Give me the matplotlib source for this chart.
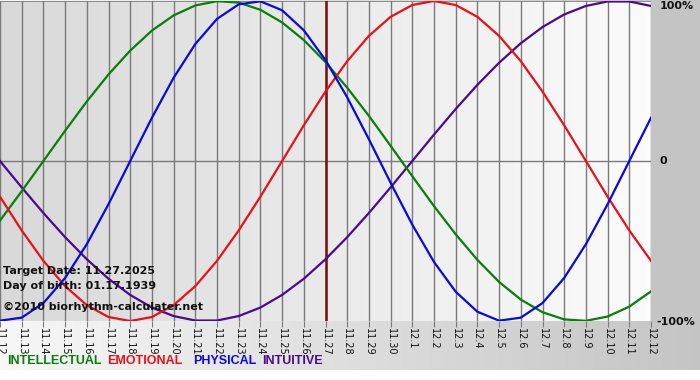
import matplotlib.pyplot as plt
import numpy as np

# dates on x axis (11.12 .. 12.12)
days = ['11.12', '11.13', '11.14', '11.15', '11.16', '11.17', '11.18', '11.19', '11.20',
        '11.21', '11.22', '11.23', '11.24', '11.25', '11.26', '11.27', '11.28', '11.29',
        '11.30', '12.1', '12.2', '12.3', '12.4', '12.5', '12.6', '12.7', '12.8', '12.9',
        '12.10', '12.11', '12.12']

# values (fraction of 100%)
physical = [-0.998, -0.979, -0.888, -0.731, -0.520, -0.270, 0.0, 0.270, 0.520, 0.731,
            0.888, 0.979, 0.998, 0.942, 0.817, 0.631, 0.398, 0.136, -0.136, -0.398,
            -0.631, -0.817, -0.942, -0.998, -0.979, -0.888, -0.731, -0.520, -0.270, 0.0, 0.270]
emotional = [-0.223, -0.434, -0.624, -0.782, -0.901, -0.975, -1.0, -0.975, -0.901, -0.782,
             -0.624, -0.434, -0.223, 0.0, 0.223, 0.434, 0.624, 0.782, 0.901, 0.975,
             1.0, 0.975, 0.901, 0.782, 0.624, 0.434, 0.223, 0.0, -0.223, -0.434, -0.624]
intellectual = [-0.372, -0.189, 0.0, 0.189, 0.372, 0.541, 0.690, 0.815, 0.910, 0.972,
                0.999, 0.990, 0.945, 0.866, 0.756, 0.618, 0.458, 0.282, 0.095, -0.095,
                -0.282, -0.458, -0.618, -0.756, -0.866, -0.945, -0.990, -0.999, -0.972, -0.910, -0.815]
intuitive = [0.0, -0.165, -0.325, -0.476, -0.614, -0.736, -0.837, -0.916, -0.969, -0.997,
             -0.997, -0.969, -0.916, -0.837, -0.736, -0.614, -0.476, -0.325, -0.165, 0.0,
             0.165, 0.325, 0.476, 0.614, 0.736, 0.837, 0.916, 0.969, 0.997, 0.997, 0.969]

target_idx = days.index('11.27')

GREEN = '#0a7d0a'
RED = '#e8101a'
BLUE = '#0a0ad8'
PURPLE = '#4b0a8c'

fig = plt.figure(figsize=(7, 3.8), dpi=100)
fig.patch.set_facecolor('white')

# grey frame behind everything
bg = fig.add_axes([0, 10 / 380, 1, 370 / 380])
grad = np.linspace(0.97, 0.77, 256).reshape(1, -1)
bg.imshow(np.dstack([grad] * 3), aspect='auto', extent=[0, 1, 0, 1])
bg.axhspan(0.13, 1, xmin=0.93, color='#c4c4c4', lw=0)
bg.set_xlim(0, 1)
bg.set_ylim(0, 1)
bg.axis('off')

ax = fig.add_axes([0, 1 - 321 / 380, 651 / 700, 320 / 380])
x = np.arange(len(days))

# plot area gradient
pgrad = np.linspace(0.85, 0.985, 256).reshape(1, -1)
ax.imshow(np.dstack([pgrad] * 3), aspect='auto', extent=[0, len(days) - 1, -1, 1], zorder=0)

for xi in x:
    ax.axvline(xi, color='#7a7a7a', lw=1, zorder=1)
ax.axhline(0, color='#7a7a7a', lw=1, zorder=1)
ax.axhline(1, color='#7a7a7a', lw=1.2, zorder=1)
ax.axvline(target_idx, color='#7a0c0c', lw=1.8, zorder=2)

ax.plot(x, intuitive, color=PURPLE, lw=1.6, zorder=3)
ax.plot(x, intellectual, color=GREEN, lw=1.6, zorder=3)
ax.plot(x, emotional, color=RED, lw=1.6, zorder=3)
ax.plot(x, physical, color=BLUE, lw=1.6, zorder=3)

ax.set_xlim(0, len(days) - 1)
ax.set_ylim(-1.0, 1.0)
ax.set_xticks(x)
ax.set_xticklabels(days, rotation=-90, fontsize=7, family='DejaVu Sans', color='#111111')
ax.tick_params(axis='x', length=4, color='#7a7a7a', pad=1)
ax.set_yticks([])
for s in ax.spines.values():
    s.set_visible(False)

txt = dict(fontsize=8, fontweight='bold', family='DejaVu Sans', color='#111111',
           va='center', transform=fig.transFigure)
fig.text(3 / 700, 1 - 271 / 380, 'Target Date: 11.27.2025', **txt)
fig.text(3 / 700, 1 - 286 / 380, 'Day of birth: 01.17.1939', **txt)
fig.text(3 / 700, 1 - 307 / 380, '\u00a92010 biorhythm-calculater.net', **txt)

rt = dict(fontsize=8, fontweight='bold', family='DejaVu Sans', color='#111111',
          va='center', transform=fig.transFigure)
fig.text(660 / 700, 1 - 6 / 380, '100%', **rt)
fig.text(660 / 700, 1 - 161 / 380, '0', **rt)
fig.text(656 / 700, 1 - 322 / 380, '-100%', **rt)

lg = dict(fontsize=9, fontweight='bold', family='Liberation Sans', va='center')
fig.text(7 / 700, 1 - 361 / 380, 'INTELLECTUAL', color=GREEN, **lg)
fig.text(107 / 700, 1 - 361 / 380, 'EMOTIONAL', color=RED, **lg)
fig.text(193 / 700, 1 - 361 / 380, 'PHYSICAL', color=BLUE, **lg)
fig.text(262 / 700, 1 - 361 / 380, 'INTUITIVE', color=PURPLE, **lg)

fig.savefig('out.png', dpi=100)
